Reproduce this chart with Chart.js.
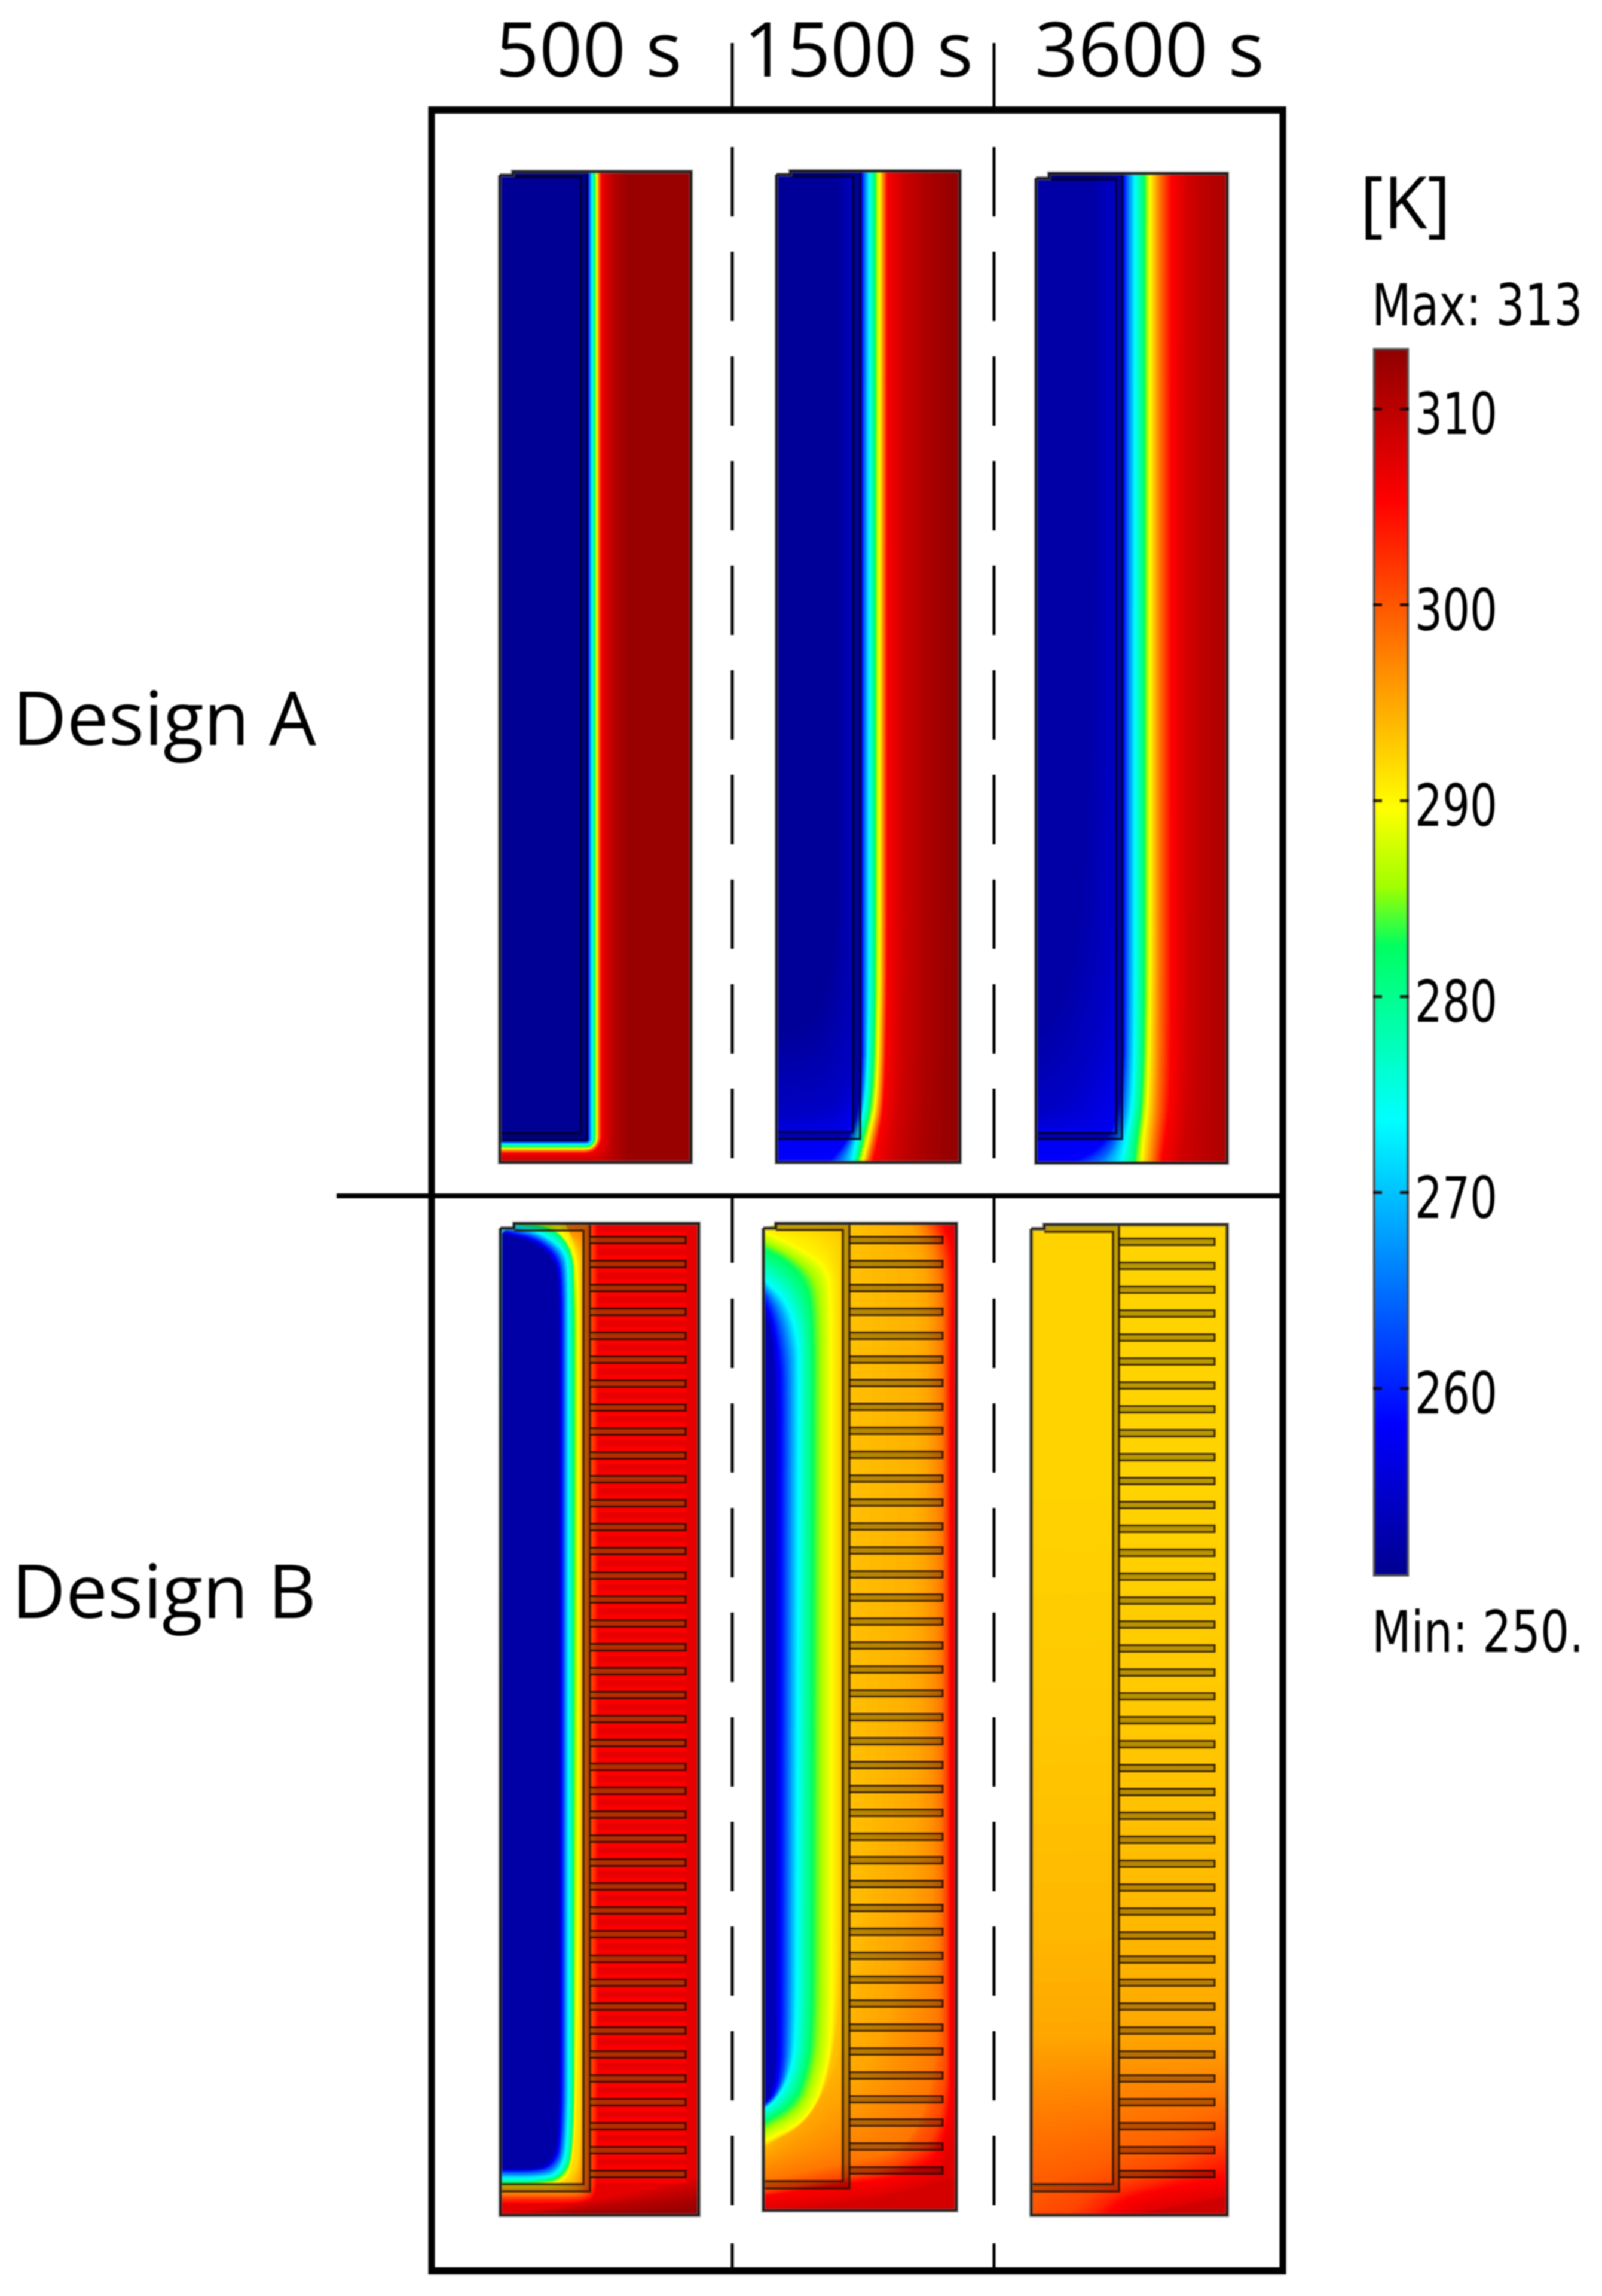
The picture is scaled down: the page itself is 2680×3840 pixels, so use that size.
<!DOCTYPE html>
<html><head><meta charset="utf-8">
<script src="https://cdn.jsdelivr.net/npm/chart.js@4"></script>
<style>
html,body{margin:0;padding:0;background:#fff;width:2680px;height:3840px;overflow:hidden}
#wrap{position:relative;width:2680px;height:3840px;filter:blur(1.1px)}
canvas{position:absolute;left:0;top:0}
.t{position:absolute;white-space:pre;color:#000;line-height:1;transform-origin:0 0}
</style></head><body><div id="wrap"><canvas id="c" width="2680" height="3840"></canvas>
<div class="t" id="unit"  style="left:2275px;top:276px;font:120px/1 'Open Sans'">[K]</div>
<div class="t" id="maxL"  style="left:2295px;top:462px;font:97px/1 'DejaVu Sans';transform:scaleX(.785)">Max: 313</div>
<div class="t" id="minL"  style="left:2295px;top:2681px;font:97px/1 'DejaVu Sans';transform:scaleX(.785)">Min: 250.</div>
</div>
<script>
// ---------- labels ----------
const colLabels=['500 s','1500 s','3600 s'];
const colCentres=[985,1436,1923];
const rowLabels=['Design A','Design B'];
const rowCentres=[1210,2670];
// ---------- colour bar ----------
const cbMin=250.4, cbMax=313.1;
const cbTicks=[260,270,280,290,300,310];
const cbStops=[250.4,258.2,273.7,282.6,285.6,289.6,305.3,313.1];
const cbStopRGB=[[0,0,143],[0,0,255],[0,255,255],[0,255,96],[160,255,0],[255,255,0],[255,0,0],[143,0,0]];
// ---------- fin rows (design B) ----------
const finsB500=[2074,2114,2154,2194,2234,2274,2314,2354,2394,2434,2474,2514,2554,2594,2635,2675,2715,2755,2795,2835,2875,2915,2955,2995,3035,3075,3115,3155,3195,3235,3276,3316,3356,3396,3436,3476,3516,3556,3596,3636];
const finsB1500=[2074,2114,2154,2194,2234,2274,2313,2353,2393,2433,2473,2513,2553,2593,2633,2672,2712,2752,2792,2832,2872,2912,2952,2992,3032,3072,3111,3151,3191,3231,3271,3311,3351,3391,3431,3471,3511,3550,3590,3630];
const finsB3600=[2077,2117,2157,2197,2237,2277,2317,2357,2397,2437,2477,2517,2557,2597,2637,2677,2717,2757,2797,2837,2877,2917,2957,2997,3037,3077,3117,3157,3197,3237,3277,3316,3356,3396,3436,3476,3516,3556,3596,3636];
// ---------- isotherms: T [K] and the contour of "colder than T" ----------
const a500T=[312,310,306,298,290,282,270,258,254,252,250.8];
const a500Iso=[
[[858,287],[1048,287],[1048,1700],[1048,1860],[1048,1944],[1040,1944],[836,1944]],
[[858,287],[1025,287],[1025,1700],[1025,1860],[1025,1944],[1000,1944],[836,1944]],
[[858,287],[1006,287],[1006,1700],[1006,1865],[1006,1929],[945,1929],[836,1929]],
[[858,287],[1001,287],[1001,1700],[1001,1872],[1001,1924],[950,1924],[836,1924]],
[[858,287],[998,287],[998,1700],[998,1880],[998,1921],[958,1921],[836,1921]],
[[858,287],[994,287],[994,1700],[994,1888],[994,1917],[965,1917],[836,1917]],
[[858,287],[988,287],[988,1700],[988,1896],[988,1912],[972,1912],[836,1912]],
[[858,287],[983,287],[983,1700],[983,1900],[983,1908],[976,1908],[836,1908]],
[[858,287],[982,287],[982,1700],[982,1900],[982,1907],[974,1907],[836,1907]],
[[858,287],[975,287],[975,1700],[975,1890],[975,1903],[960,1903],[836,1903]],
[[858,287],[968,287],[968,1700],[968,1880],[968,1895],[950,1895],[836,1895]]];
const a1500T=[312.4,310.8,308.5,305.3,298,290,282,273,265,258,257,254,251];
const a1500Iso=[
[[1322,286],[1592,286],[1592,1650],[1590,1840],[1588,1900],[1586,1944],[1299,1944]],
[[1322,286],[1548,286],[1548,1650],[1547,1840],[1540,1900],[1535,1944],[1299,1944]],
[[1322,286],[1510,286],[1510,1650],[1508,1840],[1500,1900],[1495,1944],[1299,1944]],
[[1322,286],[1484,286],[1484,1650],[1480,1840],[1470,1900],[1460,1944],[1299,1944]],
[[1322,286],[1478,286],[1478,1650],[1474,1840],[1462,1900],[1450,1944],[1299,1944]],
[[1322,286],[1471,286],[1471,1650],[1467,1840],[1453,1900],[1443,1944],[1299,1944]],
[[1322,286],[1463,286],[1463,1650],[1459,1840],[1444,1900],[1433,1944],[1299,1944]],
[[1322,286],[1453,286],[1453,1650],[1449,1840],[1432,1900],[1425,1944],[1299,1944]],
[[1322,286],[1446,286],[1446,1650],[1445,1840],[1426,1905],[1405,1944],[1299,1944]],
[[1322,286],[1441,286],[1441,1650],[1440,1840],[1420,1905],[1385,1944],[1299,1944]],
[[1322,286],[1440,286],[1440,1650],[1438,1840],[1420,1900],[1380,1905],[1299,1900]],
[[1322,286],[1432,286],[1432,1650],[1428,1780],[1400,1850],[1350,1860],[1299,1870]],
[[1322,286],[1400,286],[1400,1500],[1395,1600],[1370,1700],[1340,1720],[1299,1730]]];
const a3600T=[310.8,309.8,308.5,305.3,298,291,282,273,264,258,257,254,252];
const a3600Iso=[
[[1755,290],[2045,290],[2045,1650],[2045,1840],[2045,1900],[2045,1945],[1733,1945]],
[[1755,290],[2015,290],[2015,1650],[2014,1840],[2013,1900],[2012,1945],[1733,1945]],
[[1755,290],[1990,290],[1990,1650],[1988,1840],[1982,1900],[1975,1945],[1733,1945]],
[[1755,290],[1960,290],[1960,1650],[1958,1840],[1950,1900],[1943,1945],[1733,1945]],
[[1755,290],[1940,290],[1940,1650],[1938,1840],[1932,1900],[1928,1945],[1733,1945]],
[[1755,290],[1926,290],[1926,1650],[1923,1840],[1916,1900],[1912,1945],[1733,1945]],
[[1755,290],[1913,290],[1913,1650],[1910,1840],[1901,1900],[1897,1945],[1733,1945]],
[[1755,290],[1897,290],[1897,1650],[1895,1840],[1882,1905],[1874,1945],[1733,1945]],
[[1755,290],[1885,290],[1885,1650],[1883,1840],[1865,1915],[1835,1945],[1733,1945]],
[[1755,290],[1879,290],[1879,1650],[1878,1840],[1850,1915],[1790,1945],[1733,1945]],
[[1755,290],[1877,290],[1877,1650],[1875,1840],[1855,1900],[1800,1905],[1733,1905]],
[[1755,290],[1860,290],[1860,1500],[1850,1700],[1800,1820],[1770,1850],[1733,1860]],
[[1755,290],[1830,290],[1830,1000],[1815,1500],[1790,1650],[1760,1720],[1733,1740]]];
const b500HotT=[312,310,307];
const b500HotIso=[
[[860,2046],[1169,2046],[1169,2800],[1169,3690],[1110,3697],[1040,3705],[950,3705],[837,3705]],
[[860,2046],[1169,2046],[1169,2800],[1169,3668],[1090,3680],[1000,3690],[900,3705],[837,3705]],
[[860,2046],[1169,2046],[1169,2800],[1169,3640],[1060,3665],[990,3680],[900,3695],[837,3703]]];
const b500T=[305.3,302,298,292,282,273,262,252];
const b500Iso=[
[[860,2046],[998,2046],[1000,2080],[1000,3600],[998,3665],[985,3684],[900,3685],[837,3685]],
[[860,2046],[990,2046],[993,2080],[993,3600],[992,3665],[975,3677],[900,3677],[837,3677]],
[[860,2046],[978,2046],[978,2080],[978,3600],[977,3665],[960,3670],[900,3670],[837,3670]],
[[945,2046],[968,2095],[970,2150],[970,3590],[960,3640],[930,3655],[900,3656],[837,3656]],
[[880,2049],[930,2055],[958,2095],[959,2150],[959,3590],[945,3640],[900,3650],[837,3650]],
[[860,2052],[900,2060],[945,2090],[950,2130],[950,3590],[935,3635],[900,3642],[837,3642]],
[[845,2058],[900,2070],[935,2100],[942,2140],[942,3590],[925,3625],[895,3632],[837,3632]],
[[840,2064],[890,2077],[925,2105],[934,2150],[934,3585],[915,3620],[890,3626],[837,3626]]];
const b1500T=[307.5,305.3,301,298,296.5,295,294.3,293.3,290,283,273.7,262,253];
const b1500Iso=[
[[1298,2046],[1590,2046],[1600,2060],[1600,3400],[1600,3640],[1500,3668],[1400,3685],[1277,3697]],
[[1298,2046],[1578,2046],[1597,2095],[1590,2300],[1590,3600],[1503,3643],[1443,3648],[1277,3673]],
[[1298,2046],[1560,2046],[1585,2100],[1583,2300],[1583,3560],[1500,3625],[1421,3640],[1277,3665]],
[[1298,2046],[1545,2046],[1576,2110],[1577,2400],[1572,3430],[1530,3590],[1421,3615],[1277,3648]],
[[1298,2046],[1535,2046],[1565,2110],[1567,2400],[1558,3300],[1490,3510],[1400,3580],[1277,3625]],
[[1298,2046],[1520,2046],[1550,2110],[1550,2400],[1530,3100],[1480,3420],[1380,3530],[1277,3605]],
[[1298,2046],[1480,2046],[1530,2110],[1530,2500],[1500,2900],[1450,3300],[1395,3490],[1277,3597]],
[[1298,2046],[1430,2046],[1415,2110],[1412,2200],[1410,3200],[1402,3420],[1360,3545],[1277,3590]],
[[1277,2058],[1330,2082],[1386,2115],[1392,2170],[1393,3400],[1383,3467],[1355,3545],[1277,3583]],
[[1277,2087],[1322,2110],[1352,2146],[1361,2210],[1360,3400],[1350,3467],[1330,3520],[1277,3552]],
[[1277,2140],[1316,2175],[1334,2236],[1336,2290],[1332,3400],[1323,3467],[1300,3510],[1277,3528]],
[[1277,2160],[1298,2200],[1310,2260],[1313,2330],[1312,3400],[1310,3467],[1297,3505],[1277,3522]],
[[1277,2190],[1288,2230],[1293,2290],[1295,2350],[1295,3367],[1295,3467],[1288,3505],[1277,3517]]];
const b3600T=[307.5,305.3,303,301,299.5,298,296,295,294,293,292.3];
const b3600Iso=[
[[1747,2048],[2053,2048],[2053,3672],[1990,3686],[1930,3695],[1905,3705],[1725,3705]],
[[1747,2048],[2053,2048],[2053,3645],[1963,3657],[1880,3677],[1853,3705],[1725,3705]],
[[1747,2048],[2053,2048],[2053,3612],[1960,3645],[1865,3668],[1825,3705],[1725,3705]],
[[1747,2048],[2053,2048],[2053,3580],[1960,3625],[1840,3655],[1780,3705],[1725,3705]],
[[1747,2048],[2053,2048],[2053,3545],[1960,3590],[1840,3620],[1725,3650],[1725,3705]],
[[1747,2048],[2053,2048],[2053,3510],[1950,3530],[1840,3545],[1725,3560],[1725,3600]],
[[1747,2048],[2053,2048],[2053,3440],[1950,3445],[1840,3450],[1725,3455],[1725,3460]],
[[1747,2048],[2053,2048],[2053,3400],[1950,3402],[1840,3404],[1725,3406],[1725,3408]],
[[1747,2048],[2053,2048],[2053,3240],[1950,3242],[1840,3244],[1725,3246],[1725,3248]],
[[1747,2048],[2053,2048],[2053,2900],[1950,2902],[1840,2904],[1725,2906],[1725,2908]],
[[1747,2048],[2053,2048],[2053,2500],[1950,2502],[1840,2504],[1725,2506],[1725,2508]]];
// ---------- panel outlines ----------
const panelA500 ={l:836, r:1156,t:287, lt:293, n:858, b:1944,w0:971, w1:982, pl:296, y1:1895,y2:1907,base:312.4,step:.5,groups:[[a500T,a500Iso]]};
const panelA1500={l:1299,r:1606,t:286, lt:292, n:1322,b:1944,w0:1427,w1:1439,pl:295, y1:1893,y2:1905,base:312.7,step:.4,groups:[[a1500T,a1500Iso]]};
const panelA3600={l:1733,r:2053,t:290, lt:298, n:1755,b:1945,w0:1867,w1:1877,pl:300, y1:1895,y2:1905,base:311,step:.4,groups:[[a3600T,a3600Iso]]};
const panelB500 ={l:837, r:1169,t:2046,lt:2054,n:860, b:3705,w0:976, w1:987, pl:2058,y1:3653,y2:3665,base:312.4,step:.4,groups:[[b500HotT,b500HotIso],[b500T,b500Iso]],fins:finsB500,finEnd:1147,finFill:'rgba(120,80,0,.55)',glow:[[1147,30,305.5]]};
const panelB1500={l:1277,r:1600,t:2046,lt:2054,n:1298,b:3697,w0:1410,w1:1421,pl:2057,y1:3648,y2:3660,base:308.3,step:.2,groups:[[b1500T,b1500Iso]],fins:finsB1500,finEnd:1577,finFill:'rgba(0,0,0,.28)'};
const panelB3600={l:1725,r:2053,t:2048,lt:2055,n:1747,b:3705,w0:1862,w1:1872,pl:2060,y1:3653,y2:3665,base:308.5,step:.15,groups:[[b3600T,b3600Iso]],fins:finsB3600,finEnd:2032,finFill:'rgba(0,0,0,.28)'};
const panels=[panelA500,panelA1500,panelA3600,panelB500,panelB1500,panelB3600];

// ---------- colour map ----------
function jet(T){T=Math.max(cbMin,Math.min(cbMax,T));let i=0;while(i<cbStops.length-2&&T>cbStops[i+1])i++;
 const f=(T-cbStops[i])/(cbStops[i+1]-cbStops[i]),a=cbStopRGB[i],b=cbStopRGB[i+1];
 return `rgb(${Math.round(a[0]+(b[0]-a[0])*f)},${Math.round(a[1]+(b[1]-a[1])*f)},${Math.round(a[2]+(b[2]-a[2])*f)})`;}

// ---------- dataset helpers ----------
const paint=[];
const toPts=a=>a.map(p=>({x:p[0],y:p[1]}));
function shape(pts,color){paint.push({type:'line',data:toPts(pts),showLine:true,fill:'shape',backgroundColor:color,borderColor:color,borderWidth:1,pointRadius:0,tension:0,clip:false});}
function lines(segs,color,width,dash){const d=[];segs.forEach(s=>{d.push(...toPts(s));d.push({x:NaN,y:NaN});});
 paint.push({type:'line',data:d,showLine:true,fill:false,borderColor:color,borderWidth:width,borderDash:dash||[],borderCapStyle:'butt',borderJoinStyle:'miter',pointRadius:0,tension:0,spanGaps:false,clip:false});}
function rounded(k,p){const out=[k[0]];const onEdge=q=>q[0]<=p.l||q[0]>=p.r||q[1]<=p.t||q[1]>=p.b;
 for(let i=1;i<k.length-1;i++){const P=k[i],A=k[i-1],B=k[i+1];
  if(onEdge(P)){out.push(P);continue;}
  const la=Math.hypot(A[0]-P[0],A[1]-P[1])||1,lb=Math.hypot(B[0]-P[0],B[1]-P[1])||1;
  const R=130,ra=Math.min(la/2,R)/la,rb=Math.min(lb/2,R)/lb;
  const S=[P[0]+(A[0]-P[0])*ra,P[1]+(A[1]-P[1])*ra],E=[P[0]+(B[0]-P[0])*rb,P[1]+(B[1]-P[1])*rb];
  for(let j=0;j<=8;j++){const u=j/8,v=1-u;out.push([v*v*S[0]+2*u*v*P[0]+u*u*E[0],v*v*S[1]+2*u*v*P[1]+u*u*E[1]]);}
 }
 out.push(k[k.length-1]);return out;}
function closePoly(k,p){const r=rounded(k,p);if(k[0][1]<p.lt){r.push([p.l,p.lt],[p.n,p.lt],[p.n,p.t]);}return r;}
function outlinePts(p){return [[p.l,p.lt],[p.n,p.lt],[p.n,p.t],[p.r,p.t],[p.r,p.b],[p.l,p.b],[p.l,p.lt]];}

panels.forEach(p=>{
 shape(outlinePts(p),jet(p.base));
 p.groups.forEach(([Ts,Isos])=>{
  for(let i=0;i<Ts.length;i++){
   if(i===0){shape(closePoly(Isos[0],p),jet(Ts[0]));continue;}
   const n=Math.max(1,Math.ceil(Math.abs(Ts[i-1]-Ts[i])/p.step));
   for(let s=1;s<=n;s++){const f=s/n;
    const k=Isos[i].map((q,m)=>[Isos[i-1][m][0]+(q[0]-Isos[i-1][m][0])*f,Isos[i-1][m][1]+(q[1]-Isos[i-1][m][1])*f]);
    shape(closePoly(k,p),jet(Ts[i-1]+(Ts[i]-Ts[i-1])*f));}
  }});
 if(p.glow){p.glow.forEach(g=>lines(p.fins.map(y=>[[p.w1+13,y],[g[0],y]]),jet(g[2]),g[1]));}
 const dark=p.fins?'rgba(40,20,0,.85)':'rgba(0,0,40,.85)';
 const strip=p.fins?'rgba(0,0,0,.25)':'rgba(0,0,30,.30)';
 lines([[[p.n,(p.t+p.pl)/2],[p.w0,(p.t+p.pl)/2]]],strip,p.pl-p.t);
 lines([[[(p.w0+p.w1)/2,p.t],[(p.w0+p.w1)/2,p.y2]]],strip,p.w1-p.w0);
 lines([[[p.l,(p.y1+p.y2)/2],[p.w0,(p.y1+p.y2)/2]]],strip,p.y2-p.y1);
 lines([[[p.n,p.pl],[p.w0,p.pl],[p.w0,p.y1],[p.l,p.y1]],[[p.w1,p.t],[p.w1,p.y2],[p.l,p.y2]]],dark,3.5);
 if(p.fins){
  lines(p.fins.map(y=>[[p.w1,y],[p.finEnd,y]]),p.finFill,11);
  lines(p.fins.map(y=>[[p.w1,y-5.5],[p.finEnd,y-5.5],[p.finEnd,y+5.5],[p.w1,y+5.5]]),'rgba(25,10,0,.8)',3.2);
 }
 lines([outlinePts(p)],'rgba(110,110,110,.55)',7);
 lines([outlinePts(p)],'rgba(15,15,15,.9)',3.5);
});

// ---------- frame and dividers ----------
const frameTop=184,frameBottom=3798,frameLeft=722,frameRight=2146,midY=2000,midLeft=563;
const dividerX=[1225,1663];
lines([[[frameLeft,frameTop],[frameRight,frameTop]],[[frameLeft,frameBottom],[frameRight,frameBottom]]],'#000',12);
lines([[[frameLeft,frameTop-6],[frameLeft,frameBottom+6]],[[frameRight,frameTop-6],[frameRight,frameBottom+6]]],'#000',11);
lines([[[midLeft,midY],[frameRight,midY]]],'#000',8);
dividerX.forEach(x=>{
 lines([[[x,72],[x,frameTop]],[[x,midY],[x,2112]],[[x,3752],[x,frameBottom]]],'#000',5);
 lines([[[x,246],[x,1940]],[[x,2172],[x,3692]]],'#000',5,[116,59]);
});

// ---------- colour bar ----------
const cbX=2327;
const cbDs={type:'bar',xAxisID:'x',yAxisID:'yT',data:[{x:cbX,y:[cbMin,cbMax]}],barThickness:60,borderWidth:4,borderColor:'rgba(35,35,35,.8)',borderSkipped:false,
 backgroundColor:c=>{const s=c.chart.scales.yT;if(!s||!isFinite(s.getPixelForValue(cbMin)))return '#00f';
  const a=s.getPixelForValue(cbMin),b=s.getPixelForValue(cbMax),g=c.chart.ctx.createLinearGradient(0,a,0,b);
  cbStops.forEach(T=>g.addColorStop((T-cbMin)/(cbMax-cbMin),jet(T)));return g;}};
paint.push(cbDs);
paint.push({type:'line',xAxisID:'x',yAxisID:'yT',data:cbTicks.flatMap(T=>[{x:2297,y:T},{x:2312,y:T},{x:NaN,y:NaN},{x:2342,y:T},{x:2357,y:T},{x:NaN,y:NaN}]),showLine:true,fill:false,borderColor:'rgba(20,0,0,.85)',borderWidth:5,pointRadius:0,spanGaps:false,borderCapStyle:'butt',clip:false});

// the reference's numerals are horizontally squeezed: narrow the colour-bar tick labels about their right edge
function squeezeLabels(s){ if(s._sq) return; s._sq=true; const orig=s.drawLabels; const xr=2505;
 s.drawLabels=function(a){const c=this.ctx;c.save();c.translate(xr,0);c.scale(.745,1);c.translate(-xr,0);orig.call(this,a);c.restore();};}

const chart=new Chart(document.getElementById('c').getContext('2d'),{
 type:'line',
 data:{datasets:paint.slice().reverse()},
 options:{responsive:false,animation:false,devicePixelRatio:1,events:[],
  layout:{padding:0,autoPadding:false},
  plugins:{legend:{display:false},tooltip:{enabled:false},title:{display:false}},
  scales:{
   x:{type:'linear',position:'top',min:563,max:2680,offset:false,
      grid:{display:false},border:{display:false},
      afterBuildTicks:s=>{s.ticks=colCentres.map(v=>({value:v}));},
      afterFit:s=>{s.height=182;},
      ticks:{autoSkip:false,maxRotation:0,minRotation:0,padding:6,color:'#000',font:{family:"'Open Sans'",size:127},
             callback:v=>colLabels[colCentres.indexOf(v)]}},
   y:{type:'linear',position:'left',min:182,max:3840,reverse:true,
      grid:{display:false},border:{display:false},
      afterBuildTicks:s=>{s.ticks=rowCentres.map(v=>({value:v}));},
      afterFit:s=>{s.width=563;},
      ticks:{autoSkip:false,padding:26,color:'#000',font:{family:"'Open Sans'",size:125},
             callback:v=>rowLabels[rowCentres.indexOf(v)]}},
   yT:{type:'linear',position:{x:2505},min:213.66,max:325.69,
      grid:{display:false},border:{display:false},
      afterBuildTicks:s=>{s.ticks=cbTicks.map(v=>({value:v}));squeezeLabels(s);},
      ticks:{autoSkip:false,padding:0,labelOffset:17,color:'#000',font:{family:"'DejaVu Sans'",size:97},
             callback:v=>String(v)}}
  }}
});
// align the axes with the plot area the layout actually produced, so axis units equal reference pixels
const ca=chart.chartArea, o=chart.options.scales;
o.x.min=ca.left; o.x.max=ca.right;
o.y.min=ca.top;  o.y.max=ca.bottom;
const kPerPx=1/32.76, t310y=684;
o.yT.max=310+(t310y-ca.top)*kPerPx; o.yT.min=310+(t310y-ca.bottom)*kPerPx;
chart.update();
</script></body></html>
